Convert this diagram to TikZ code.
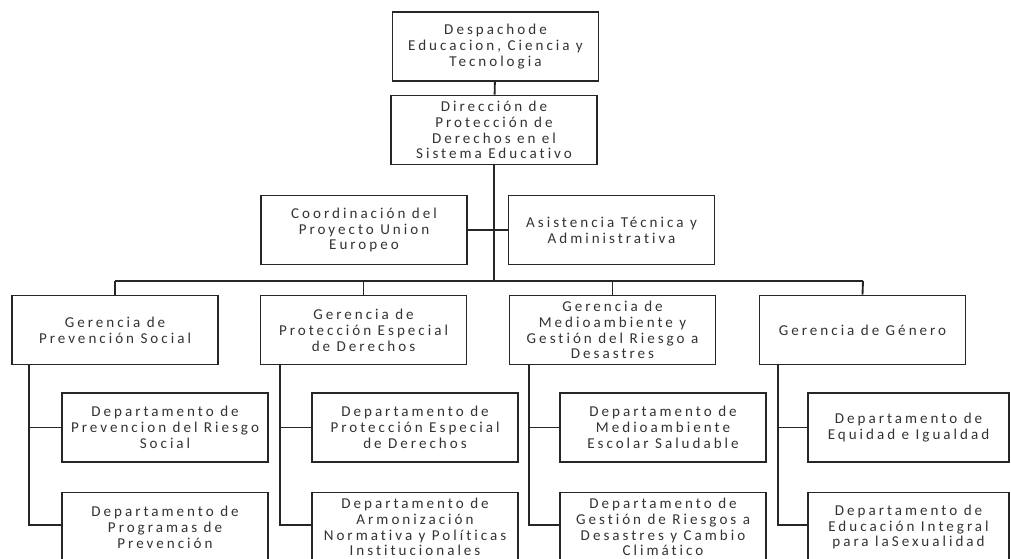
\documentclass[tikz,border=0pt]{standalone}
\usepackage{fontspec}
\newfontfamily\boxfont{Carlito}[LetterSpace=20,Ligatures={NoCommon}]
\begin{document}
\begin{tikzpicture}[x=0.75pt,y=-0.75pt]
\tikzset{
 box/.style={draw=black!85, line width=1.3pt, fill=white, align=center, inner sep=1pt,
   minimum width=154.5pt, minimum height=51.75pt,
   font=\boxfont\fontsize{11.3}{11.9}\selectfont, text=black!80},
 conn/.style={draw=black!85, line width=1.4pt},
}
\fill[white] (0,0) rectangle (1011,559);
\useasboundingbox (0,0) rectangle (1011,559);
\clip (0,0) rectangle (1011,559);
% top levels
\node[box] (top) at (495.5,46.5) {Despachode\\Educacion, Ciencia y\\Tecnologia};
\node[box] (dir) at (494,130) {Dirección de\\Protección de\\Derechos en el\\Sistema Educativo};
\node[box] (coord) at (364,230) {Coordinación del\\Proyecto Union\\Europeo};
\node[box] (asist) at (611.5,230) {Asistencia Técnica y\\Administrativa};
% gerencias
\node[box] (g1) at (115,330) {Gerencia de\\Prevención Social};
\node[box] (g2) at (363.5,330) {Gerencia de\\Protección Especial\\de Derechos};
\node[box] (g3) at (612.5,330) {Gerencia de\\Medioambiente y\\Gestión del Riesgo a\\Desastres};
\node[box] (g4) at (862.5,330) {Gerencia de Género};
% departamentos
\node[box] (d11) at (165,427.5) {Departamento de\\Prevencion del Riesgo\\Social};
\node[box] (d12) at (165,527) {Departamento de\\Programas de\\Prevención};
\node[box] (d21) at (415,427.5) {Departamento de\\Protección Especial\\de Derechos};
\node[box] (d22) at (415,527) {Departamento de\\Armonización\\Normativa y Políticas\\Institucionales};
\node[box] (d31) at (663,427.5) {Departamento de\\Medioambiente\\Escolar Saludable};
\node[box] (d32) at (663,527) {Departamento de\\Gestión de Riesgos a\\Desastres y Cambio\\Climático};
\node[box, minimum width=150.75pt] (d41) at (908.5,427.5) {Departamento de\\Equidad e Igualdad};
\node[box, minimum width=150.75pt] (d42) at (908.5,527) {Departamento de\\Educación Integral\\para laSexualidad};
% connectors
\coordinate (busC) at (494,281);
\coordinate (busL) at (115,281);
\coordinate (busR) at (863,281);
\draw[conn] (top) -- (dir);
\draw[conn] (dir.south) -- (busC);
\draw[conn] (coord.east) -- (asist.west);
\draw[conn] (busL) -- (busR);
\draw[conn] (busL) -- (g1.north);
\draw[conn] (g2.north |- busL) -- (g2.north);
\draw[conn] (g3.north |- busL) -- (g3.north);
\draw[conn] (busR) -- (g4.north);
\coordinate (s1) at (29,525);
\coordinate (s2) at (280,525);
\coordinate (s3) at (529,525);
\coordinate (s4) at (778,525);
\draw[conn] (s1 |- g1.south) -- (s1) -- (d12.west |- s1);
\draw[conn] (s1 |- d11.west) -- (d11.west);
\draw[conn] (s2 |- g2.south) -- (s2) -- (d22.west |- s2);
\draw[conn] (s2 |- d21.west) -- (d21.west);
\draw[conn] (s3 |- g3.south) -- (s3) -- (d32.west |- s3);
\draw[conn] (s3 |- d31.west) -- (d31.west);
\draw[conn] (s4 |- g4.south) -- (s4) -- (d42.west |- s4);
\draw[conn] (s4 |- d41.west) -- (d41.west);
\end{tikzpicture}
\end{document}
